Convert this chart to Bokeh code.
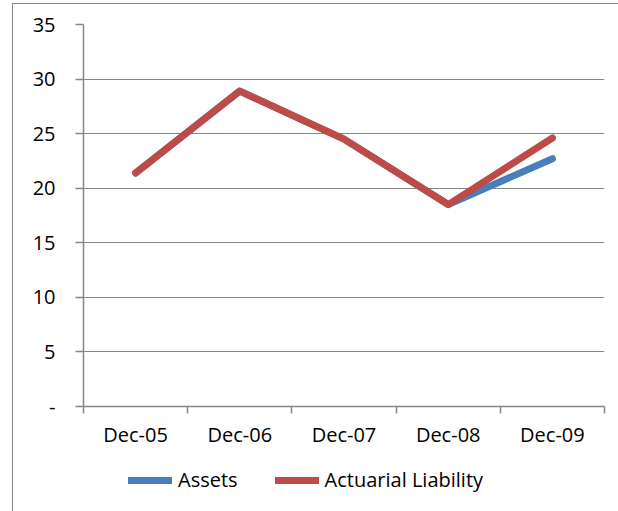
from bokeh.plotting import figure
from bokeh.models import FixedTicker, Range1d, Legend, LegendItem
from bokeh.layouts import column
from bokeh.embed import file_html
from bokeh.resources import INLINE

categories = ["Dec-05", "Dec-06", "Dec-07", "Dec-08", "Dec-09"]
assets = [21.4, 28.9, 24.5, 18.5, 22.7]
liability = [21.4, 28.9, 24.5, 18.5, 24.6]
y_ticks = [0, 5, 10, 15, 20, 25, 30, 35]
series_names = ["Assets", "Actuarial Liability"]
series_colors = ["#4A7EBB", "#BE4B48"]

FONT = "Open Sans"
GRAY = "#868686"

xs = [i + 0.5 for i in range(len(categories))]

p = figure(width=605, height=456, output_backend="svg", toolbar_location=None,
           x_range=Range1d(0, len(categories)), y_range=Range1d(0, 35),
           min_border_left=70, min_border_right=14, min_border_top=20, min_border_bottom=54)
p.outline_line_color = None
p.background_fill_color = "white"
p.border_fill_color = "white"

p.line(xs, assets, line_color=series_colors[0], line_width=7, line_cap="round", line_join="round")
p.line(xs, liability, line_color=series_colors[1], line_width=7, line_cap="round", line_join="round")

# x axis
xax = p.xaxis[0]
xax.ticker = FixedTicker(ticks=xs, minor_ticks=list(range(len(categories) + 1)))
xax.major_label_overrides = {x: c for x, c in zip(xs, categories)}
xax.major_tick_out = 0
xax.major_tick_in = 0
xax.minor_tick_out = 7
xax.minor_tick_in = 0
xax.minor_tick_line_color = GRAY
xax.minor_tick_line_width = 1.5
xax.axis_line_color = GRAY
xax.axis_line_width = 1.5
xax.major_label_text_font = FONT
xax.major_label_text_font_size = "20px"
xax.major_label_text_color = "black"
xax.major_label_standoff = 7

# y axis
yax = p.yaxis[0]
yax.ticker = FixedTicker(ticks=y_ticks, minor_ticks=[])
yax.major_label_overrides = {0: "-"}
yax.major_tick_out = 8
yax.major_tick_in = 0
yax.major_tick_line_color = GRAY
yax.major_tick_line_width = 1.5
yax.axis_line_color = GRAY
yax.axis_line_width = 1.5
yax.major_label_text_font = FONT
yax.major_label_text_font_size = "20px"
yax.major_label_text_color = "black"
yax.major_label_standoff = 20

p.xgrid.visible = False
p.ygrid.ticker = FixedTicker(ticks=y_ticks)
p.ygrid.grid_line_color = GRAY
p.ygrid.grid_line_width = 1.2

# legend strip below the chart (series drawn out of view, only the legend shows)
p2 = figure(width=605, height=51, output_backend="svg", toolbar_location=None,
            x_range=p.x_range, y_range=Range1d(100, 101),
            x_axis_location=None, y_axis_location=None,
            min_border_left=0, min_border_right=0, min_border_top=0, min_border_bottom=0)
p2.outline_line_color = None
p2.grid.visible = False
p2.background_fill_color = "white"
p2.border_fill_color = "white"
items = []
for name, col, vals in zip(series_names, series_colors, [assets, liability]):
    r = p2.line(xs, vals, line_color=col, line_width=7, line_cap="round")
    items.append(LegendItem(label=name, renderers=[r]))

legend = Legend(items=items, orientation="horizontal", location=(45, 18),
                padding=0, margin=0, spacing=37, label_standoff=6,
                glyph_width=44, glyph_height=22,
                border_line_color=None, background_fill_alpha=0,
                label_text_font=FONT, label_text_font_size="20px",
                label_text_color="black")
p2.add_layout(legend, "center")

layout = column(p, p2, spacing=0,
                styles={"margin-left": "12px", "margin-top": "3px",
                        "border-left": "1px solid #868686", "border-top": "1px solid #868686"})

open("out.html", "w").write(file_html(layout, INLINE))
